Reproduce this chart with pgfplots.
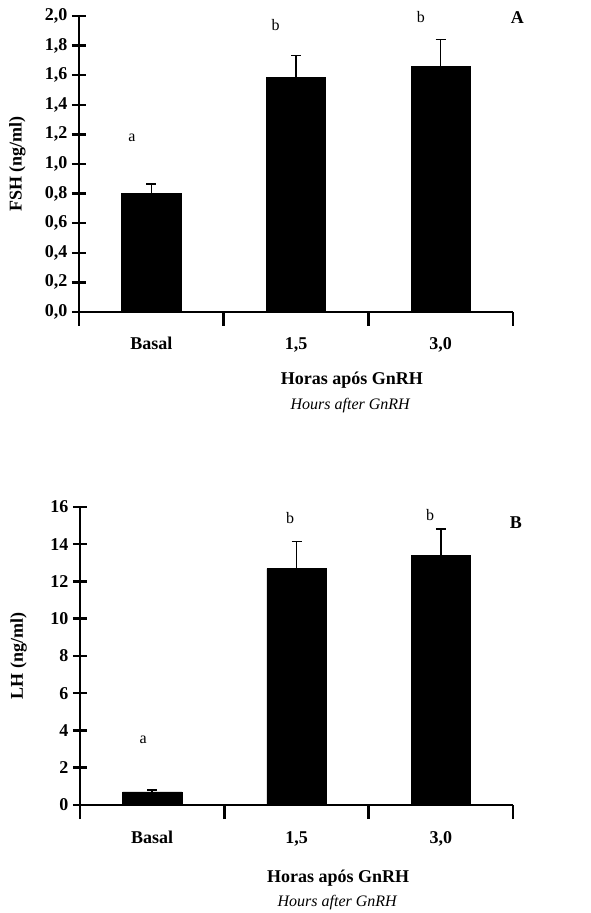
\documentclass[border=0pt]{standalone}
\usepackage{fontspec}
\setmainfont{Liberation Serif}
\usepackage{pgfplots}
\pgfplotsset{compat=1.18}
\newcommand\tk{\fontsize{18}{18}\selectfont\bfseries}
\newcommand\lt{\fontsize{16}{16}\selectfont}
\pgfplotsset{panel/.style={
  scale only axis, anchor=south west, clip=false,
  axis lines*=left,
  axis line style={line width=2.5pt, black},
  xmin=0, xmax=3, ymin=0,
  xtick={0,1,2,3}, xticklabels={},
  extra x ticks={0.5,1.5,2.5},
  extra x tick labels={Basal,{1,5},{3,0}},
  extra x tick style={major tick length=0pt, xticklabel style={anchor=base, yshift=-38pt}},
  tick align=center, major tick length=14pt,
  major tick style={line width=2.5pt, black},
  /pgf/number format/assume math mode=true,
  ticklabel style={font=\tk},
  yticklabel style={xshift=-1pt},
  ylabel style={font=\tk, at={(axis description cs:-0.142,0.5)}, anchor=center},
  ybar, bar width=0.41,
}}
\pgfplotsset{bars/.style={fill=black, draw=black,
  error bars/.cd, y dir=plus, y explicit,
  error mark=-, error mark options={line width=1.4pt, mark size=5pt, black, rotate=90},
  error bar style={line width=1.4pt, black}}}
\begin{document}
\begin{tikzpicture}[x=1pt,y=1pt]
\path[use as bounding box] (0,0) rectangle (590,913);
% Panel A
\begin{axis}[panel, at={(79pt,601pt)}, width=434pt, height=296pt,
  ymax=2, ytick={0,0.2,...,2.01},
  yticklabel style={/pgf/number format/.cd, use comma, fixed, fixed zerofill, precision=1},
  ylabel={FSH (ng/ml)}]
\addplot[bars]
  coordinates {(0.5,0.802) +- (0,0.063) (1.5,1.586) +- (0,0.148) (2.5,1.66) +- (0,0.18)};
\node[font=\lt] at (axis cs:0.366,1.175) {a};
\node[font=\lt] at (axis cs:1.36,1.94) {b};
\node[font=\lt] at (axis cs:2.364,1.99) {b};
\node[font=\tk] at (axis cs:3.03,1.99) {A};
\node[font=\tk] at (axis description cs:0.629,-0.2297) {Horas após GnRH};
\node[font=\lt\itshape] at (axis description cs:0.625,-0.3176) {Hours after GnRH};
\end{axis}
% Panel B
\begin{axis}[panel, at={(80pt,108pt)}, width=433pt, height=298pt,
  ymax=16, ytick={0,2,...,16},
  ylabel={LH (ng/ml)}]
\addplot[bars]
  coordinates {(0.5,0.71) +- (0,0.09) (1.5,12.69) +- (0,1.45) (2.5,13.39) +- (0,1.43)};
\node[font=\lt] at (axis cs:0.437,3.5) {a};
\node[font=\lt] at (axis cs:1.455,15.41) {b};
\node[font=\lt] at (axis cs:2.425,15.57) {b};
\node[font=\tk] at (axis cs:3.02,15.14) {B};
\node[font=\tk] at (axis description cs:0.596,-0.245) {Horas após GnRH};
\node[font=\lt\itshape] at (axis description cs:0.594,-0.329) {Hours after GnRH};
\end{axis}
\end{tikzpicture}
\end{document}
